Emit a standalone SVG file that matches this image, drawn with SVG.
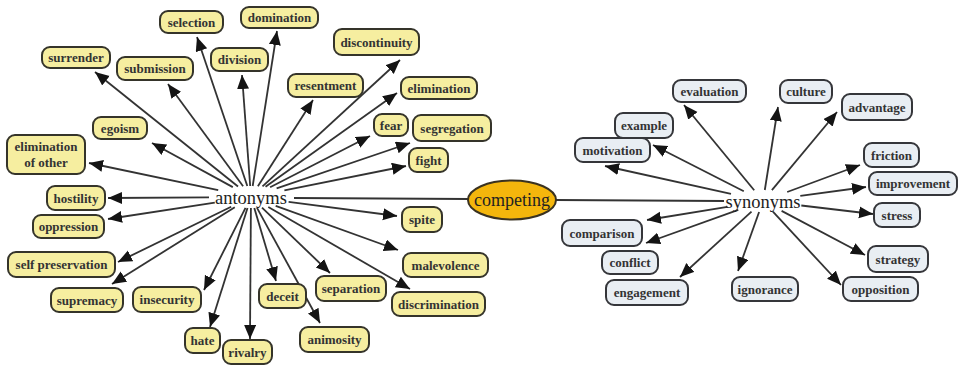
<svg xmlns="http://www.w3.org/2000/svg" width="960" height="366" viewBox="0 0 960 366">
<defs>
<marker id="ah" markerUnits="userSpaceOnUse" markerWidth="15" markerHeight="13" refX="14" refY="6" orient="auto">
<path d="M0,0 L14,6 L0,12 z" fill="#141414"/>
</marker>
<style>
.bg{fill:#ffffff}
.a rect{fill:#f6eea0;stroke:#35342a;stroke-width:2}
.s rect{fill:#e9eef3;stroke:#35363a;stroke-width:2}
.n text{font-family:"Liberation Serif",serif;font-size:13px;font-weight:bold;fill:#333;text-anchor:middle}
.hub{font-family:"Liberation Serif",serif;font-size:18.5px;fill:#222;text-anchor:middle}
.comp ellipse{fill:#f4b60c;stroke:#3a3220;stroke-width:2}
.comp text{font-family:"Liberation Serif",serif;font-size:18px;fill:#222;text-anchor:middle}
.e line{stroke:#333;stroke-width:1.8;marker-end:url(#ah)}
.e line.p{marker-end:none}
</style>
</defs>
<rect class="bg" x="0" y="0" width="960" height="366"/>
<g id="connectors" class="e">
<line class="p" x1="294" y1="198" x2="468" y2="199"/>
<line class="p" x1="556" y1="200" x2="724" y2="201"/>
<line x1="238" y1="186.5" x2="95" y2="72"/>
<line x1="243.1" y1="186.2" x2="168" y2="84"/>
<line x1="247.3" y1="186" x2="197" y2="37"/>
<line x1="250.2" y1="186" x2="242" y2="75"/>
<line x1="252.7" y1="186" x2="277" y2="31"/>
<line x1="257.9" y1="186.2" x2="313" y2="100"/>
<line x1="262.5" y1="186.4" x2="400" y2="60"/>
<line x1="265.5" y1="186.7" x2="397" y2="93"/>
<line x1="270.1" y1="187.2" x2="370" y2="136"/>
<line x1="276.6" y1="188.3" x2="410" y2="143"/>
<line x1="284.4" y1="190.3" x2="406" y2="166"/>
<line x1="288.6" y1="201.9" x2="397" y2="216"/>
<line x1="275.7" y1="205.9" x2="398" y2="250"/>
<line x1="268.3" y1="207" x2="410" y2="289"/>
<line x1="257" y1="207.9" x2="320" y2="323"/>
<line x1="262" y1="207.6" x2="330" y2="273"/>
<line x1="254.3" y1="208" x2="276" y2="281"/>
<line x1="250.9" y1="208" x2="250" y2="339"/>
<line x1="247.5" y1="208" x2="210" y2="327"/>
<line x1="245.5" y1="207.9" x2="204" y2="290"/>
<line x1="234.8" y1="207.2" x2="112" y2="284"/>
<line x1="231.2" y1="206.7" x2="118" y2="262"/>
<line x1="214.8" y1="202.6" x2="108" y2="219"/>
<line x1="209" y1="197.3" x2="108" y2="198"/>
<line x1="218.2" y1="190.1" x2="89" y2="163"/>
<line x1="232.8" y1="187.1" x2="152" y2="143"/>
<line x1="754.2" y1="190.3" x2="684" y2="105"/>
<line x1="764.8" y1="190" x2="778" y2="107"/>
<line x1="771.9" y1="190.2" x2="837" y2="112"/>
<line x1="787.2" y1="192" x2="860" y2="165"/>
<line x1="800.3" y1="195.9" x2="866" y2="187"/>
<line x1="801.3" y1="205.5" x2="873" y2="214"/>
<line x1="781.6" y1="210.9" x2="865" y2="255"/>
<line x1="772.9" y1="211.7" x2="841" y2="285"/>
<line x1="759.1" y1="212" x2="738" y2="271"/>
<line x1="751.5" y1="211.6" x2="680" y2="277"/>
<line x1="738.3" y1="209.9" x2="646" y2="243"/>
<line x1="727.4" y1="206.8" x2="647" y2="220"/>
<line x1="731" y1="193.9" x2="605" y2="166"/>
<line x1="743.8" y1="191.2" x2="653" y2="145"/>
</g>
<g id="antonyms"><text class="hub" x="251" y="203.5">antonyms</text></g>
<g id="synonyms"><text class="hub" x="763" y="207.5">synonyms</text></g>
<g id="competing" class="comp"><ellipse cx="512" cy="200" rx="44" ry="19.5"/><text x="512" y="206">competing</text></g>
<g id="surrender" class="n a"><rect x="42" y="47" width="68" height="21" rx="8"/><text x="76" y="62">surrender</text></g>
<g id="selection" class="n a"><rect x="160" y="11" width="63" height="22" rx="8"/><text x="191.5" y="26.5">selection</text></g>
<g id="domination" class="n a"><rect x="241" y="7" width="77" height="21" rx="8"/><text x="279.5" y="22">domination</text></g>
<g id="submission" class="n a"><rect x="117" y="57" width="76" height="23" rx="8"/><text x="155" y="73">submission</text></g>
<g id="division" class="n a"><rect x="211" y="48" width="57" height="23" rx="8"/><text x="239.5" y="64">division</text></g>
<g id="resentment" class="n a"><rect x="288" y="74" width="75" height="23" rx="8"/><text x="325.5" y="90">resentment</text></g>
<g id="discontinuity" class="n a"><rect x="334" y="29" width="85" height="26" rx="8"/><text x="376.5" y="46.5">discontinuity</text></g>
<g id="elimination" class="n a"><rect x="401" y="77" width="76" height="22" rx="8"/><text x="439" y="92.5">elimination</text></g>
<g id="fear" class="n a"><rect x="374" y="114" width="34" height="22" rx="8"/><text x="391" y="129.5">fear</text></g>
<g id="segregation" class="n a"><rect x="413" y="115" width="78" height="26" rx="8"/><text x="452" y="132.5">segregation</text></g>
<g id="fight" class="n a"><rect x="409" y="148" width="39" height="24" rx="8"/><text x="428.5" y="164.5">fight</text></g>
<g id="egoism" class="n a"><rect x="93" y="117" width="54" height="22" rx="8"/><text x="120" y="132.5">egoism</text></g>
<g id="elimination_of_other" class="n a"><rect x="7" y="135" width="78" height="39" rx="8"/><text x="46" y="151">elimination</text><text x="46" y="167">of other</text></g>
<g id="hostility" class="n a"><rect x="47" y="186" width="58" height="24" rx="8"/><text x="76" y="202.5">hostility</text></g>
<g id="oppression" class="n a"><rect x="33" y="215" width="71" height="23" rx="8"/><text x="68.5" y="231">oppression</text></g>
<g id="self_preservation" class="n a"><rect x="8" y="252" width="107" height="25" rx="8"/><text x="61.5" y="269">self preservation</text></g>
<g id="supremacy" class="n a"><rect x="51" y="288" width="72" height="24" rx="8"/><text x="87" y="304.5">supremacy</text></g>
<g id="insecurity" class="n a"><rect x="133" y="287" width="68" height="25" rx="8"/><text x="167" y="304">insecurity</text></g>
<g id="hate" class="n a"><rect x="185" y="328" width="35" height="25" rx="8"/><text x="202.5" y="345">hate</text></g>
<g id="rivalry" class="n a"><rect x="223" y="340" width="49" height="24" rx="8"/><text x="247.5" y="356.5">rivalry</text></g>
<g id="deceit" class="n a"><rect x="259" y="284" width="47" height="24" rx="8"/><text x="282.5" y="300.5">deceit</text></g>
<g id="separation" class="n a"><rect x="316" y="276" width="70" height="25" rx="8"/><text x="351" y="293">separation</text></g>
<g id="animosity" class="n a"><rect x="300" y="327" width="69" height="25" rx="8"/><text x="334.5" y="344">animosity</text></g>
<g id="spite" class="n a"><rect x="402" y="207" width="40" height="25" rx="8"/><text x="422" y="224">spite</text></g>
<g id="malevolence" class="n a"><rect x="403" y="253" width="85" height="24" rx="8"/><text x="445.5" y="269.5">malevolence</text></g>
<g id="discrimination" class="n a"><rect x="392" y="292" width="93" height="24" rx="8"/><text x="438.5" y="308.5">discrimination</text></g>
<g id="evaluation" class="n s"><rect x="673" y="80" width="73" height="22" rx="8"/><text x="709.5" y="95.5">evaluation</text></g>
<g id="culture" class="n s"><rect x="780" y="80" width="52" height="23" rx="8"/><text x="806" y="96">culture</text></g>
<g id="advantage" class="n s"><rect x="842" y="94" width="70" height="26" rx="8"/><text x="877" y="111.5">advantage</text></g>
<g id="friction" class="n s"><rect x="864" y="143" width="55" height="24" rx="8"/><text x="891.5" y="159.5">friction</text></g>
<g id="improvement" class="n s"><rect x="869" y="172" width="88" height="23" rx="8"/><text x="913" y="188">improvement</text></g>
<g id="stress" class="n s"><rect x="874" y="203" width="46" height="24" rx="8"/><text x="897" y="219.5">stress</text></g>
<g id="strategy" class="n s"><rect x="868" y="246" width="60" height="26" rx="8"/><text x="898" y="263.5">strategy</text></g>
<g id="opposition" class="n s"><rect x="843" y="277" width="75" height="24" rx="8"/><text x="880.5" y="293.5">opposition</text></g>
<g id="ignorance" class="n s"><rect x="732" y="277" width="66" height="24" rx="8"/><text x="765" y="293.5">ignorance</text></g>
<g id="engagement" class="n s"><rect x="606" y="280" width="82" height="25" rx="8"/><text x="647" y="297">engagement</text></g>
<g id="conflict" class="n s"><rect x="602" y="251" width="56" height="23" rx="8"/><text x="630" y="267">conflict</text></g>
<g id="comparison" class="n s"><rect x="562" y="220" width="80" height="26" rx="8"/><text x="602" y="237.5">comparison</text></g>
<g id="example" class="n s"><rect x="615" y="113" width="58" height="25" rx="8"/><text x="644" y="130">example</text></g>
<g id="motivation" class="n s"><rect x="575" y="138" width="75" height="24" rx="8"/><text x="612.5" y="154.5">motivation</text></g>
</svg>
